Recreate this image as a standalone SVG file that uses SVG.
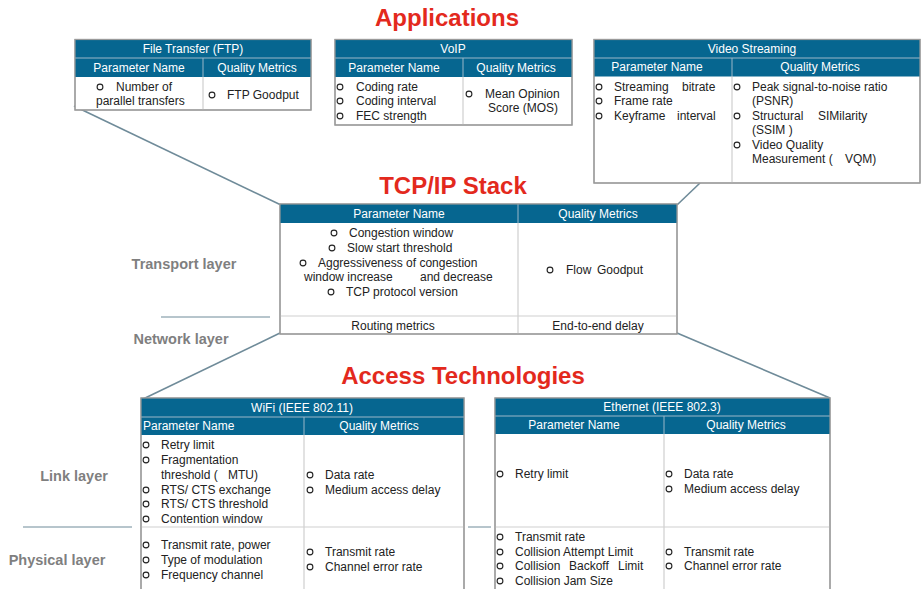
<svg xmlns="http://www.w3.org/2000/svg" width="924" height="589" viewBox="0 0 924 589">
<style>
text{font-family:"Liberation Sans",Arial,sans-serif;font-size:12px;fill:#222}
.h{fill:#fff;font-size:12px}
.c{text-anchor:middle}
.title{font-size:24px;font-weight:bold;fill:#e3291d;text-anchor:middle}
.layer{font-size:14.5px;font-weight:bold;fill:#7f7f7f;text-anchor:middle}
.hdr{fill:#066690}
.box{fill:#fff;stroke:#9a9a9a;stroke-width:1.2}
.div{stroke:#cfcfcf;stroke-width:1.2}
.hdiv{stroke:#9ab7c8;stroke-width:1}
.conn{stroke:#6f8b99;stroke-width:1.6;fill:none}
.sep{stroke:#6f8b99;stroke-width:1}
.b{fill:none;stroke:#222;stroke-width:1.1}
</style>
<defs>
<circle id="o" r="2.9" class="b"/>
</defs>
<rect width="924" height="589" fill="#fff"/>

<g id="connectors">
<line class="conn" x1="74" y1="106" x2="281" y2="205"/>
<line class="conn" x1="700" y1="183" x2="677" y2="205"/>
<line class="conn" x1="280" y1="333" x2="141" y2="400"/>
<line class="conn" x1="677" y1="333" x2="830" y2="398"/>
<line class="sep" x1="161" y1="317" x2="270" y2="317"/>
<line class="sep" x1="23" y1="527" x2="132" y2="527"/>
<line class="sep" x1="468" y1="527" x2="491" y2="527"/>
</g>

<text class="title" x="447" y="26">Applications</text>
<text class="title" x="453" y="194">TCP/IP Stack</text>
<text class="title" x="463" y="384">Access Technologies</text>

<text class="layer" x="184" y="269">Transport layer</text>
<text class="layer" x="181" y="344">Network layer</text>
<text class="layer" x="74" y="481">Link layer</text>
<text class="layer" x="57" y="565">Physical layer</text>

<g id="ftp">
<rect class="box" x="75" y="39.5" width="236" height="70.5"/>
<rect class="hdr" x="75" y="39.5" width="236" height="37.5"/>
<line class="hdiv" x1="75" y1="58" x2="311" y2="58"/>
<line class="hdiv" x1="203" y1="58" x2="203" y2="77"/>
<line class="div" x1="203" y1="77" x2="203" y2="110"/>
<rect x="75" y="39.5" width="236" height="70.5" fill="none" stroke="#9a9a9a" stroke-width="1.2"/>
<text class="h c" x="193" y="53">File Transfer (FTP)</text>
<text class="h c" x="139" y="72">Parameter Name</text>
<text class="h c" x="257" y="72">Quality Metrics</text>
<use href="#o" x="100" y="87"/>
<text x="116" y="91">Number of</text>
<text x="96" y="105">parallel transfers</text>
<use href="#o" x="212" y="95"/>
<text x="227" y="99">FTP Goodput</text>
</g>

<g id="voip">
<rect class="box" x="335" y="39.5" width="237" height="85.5"/>
<rect class="hdr" x="335" y="39.5" width="237" height="37.5"/>
<line class="hdiv" x1="335" y1="58" x2="572" y2="58"/>
<line class="hdiv" x1="463" y1="58" x2="463" y2="77"/>
<line class="div" x1="463" y1="77" x2="463" y2="125"/>
<rect x="335" y="39.5" width="237" height="85.5" fill="none" stroke="#9a9a9a" stroke-width="1.2"/>
<text class="h c" x="453" y="53">VoIP</text>
<text class="h c" x="394" y="72">Parameter Name</text>
<text class="h c" x="516" y="72">Quality Metrics</text>
<use href="#o" x="340" y="87"/>
<text x="356" y="91">Coding rate</text>
<use href="#o" x="340" y="101"/>
<text x="356" y="105">Coding interval</text>
<use href="#o" x="340" y="116"/>
<text x="356" y="120">FEC strength</text>
<use href="#o" x="469" y="94"/>
<text x="485" y="98">Mean Opinion</text>
<text x="488" y="112">Score (MOS)</text>
</g>

<g id="video">
<rect class="box" x="594" y="39.5" width="326" height="143.5"/>
<rect class="hdr" x="594" y="39.5" width="326" height="37"/>
<line class="hdiv" x1="594" y1="58" x2="920" y2="58"/>
<line class="hdiv" x1="732" y1="58" x2="732" y2="76.5"/>
<line class="div" x1="732" y1="76.5" x2="732" y2="183"/>
<rect x="594" y="39.5" width="326" height="143.5" fill="none" stroke="#9a9a9a" stroke-width="1.2"/>
<text class="h c" x="752" y="53">Video Streaming</text>
<text class="h c" x="657" y="71">Parameter Name</text>
<text class="h c" x="820" y="71">Quality Metrics</text>
<use href="#o" x="599" y="87"/>
<text x="614" y="91">Streaming</text>
<text x="682" y="91">bitrate</text>
<use href="#o" x="599" y="101"/>
<text x="614" y="105">Frame rate</text>
<use href="#o" x="599" y="116"/>
<text x="614" y="120">Keyframe</text>
<text x="677" y="120">interval</text>
<use href="#o" x="737" y="87"/>
<text x="752" y="91">Peak signal-to-noise ratio</text>
<text x="752" y="105">(PSNR)</text>
<use href="#o" x="737" y="116"/>
<text x="752" y="120">Structural</text>
<text x="818" y="120">SIMilarity</text>
<text x="752" y="134">(SSIM )</text>
<use href="#o" x="737" y="145"/>
<text x="752" y="149">Video Quality</text>
<text x="752" y="163">Measurement (</text>
<text x="845" y="163">VQM)</text>
</g>

<g id="tcpip">
<rect class="box" x="280" y="204" width="397" height="130"/>
<rect class="hdr" x="280" y="204" width="397" height="19"/>
<line class="hdiv" x1="518" y1="204" x2="518" y2="223"/>
<line class="div" x1="518" y1="223" x2="518" y2="334"/>
<line class="div" x1="280" y1="316" x2="677" y2="316"/>
<rect x="280" y="204" width="397" height="130" fill="none" stroke="#9a9a9a" stroke-width="1.2"/>
<text class="h c" x="399" y="218">Parameter Name</text>
<text class="h c" x="598" y="218">Quality Metrics</text>
<use href="#o" x="334" y="233"/>
<text x="349" y="237">Congestion window</text>
<use href="#o" x="332" y="248"/>
<text x="347" y="252">Slow start threshold</text>
<use href="#o" x="303" y="263"/>
<text x="318" y="267">Aggressiveness of congestion</text>
<text x="304" y="281">window increase</text>
<text x="420" y="281">and decrease</text>
<use href="#o" x="331" y="292"/>
<text x="346" y="296">TCP protocol version</text>
<use href="#o" x="550" y="270"/>
<text x="566" y="274">Flow</text>
<text x="597" y="274">Goodput</text>
<text class="c" x="393" y="330">Routing metrics</text>
<text class="c" x="598" y="330">End-to-end delay</text>
</g>

<g id="wifi">
<rect class="box" x="141" y="398" width="323" height="200"/>
<rect class="hdr" x="141" y="398" width="323" height="37"/>
<line class="hdiv" x1="141" y1="417" x2="464" y2="417"/>
<line class="hdiv" x1="304" y1="417" x2="304" y2="435"/>
<line class="div" x1="304" y1="435" x2="304" y2="598"/>
<line class="div" x1="141" y1="527" x2="464" y2="527"/>
<rect x="141" y="398" width="323" height="200" fill="none" stroke="#9a9a9a" stroke-width="1.2"/>
<text class="h c" x="302" y="412">WiFi (IEEE 802.11)</text>
<text class="h" x="143" y="430">Parameter Name</text>
<text class="h c" x="379" y="430">Quality Metrics</text>
<use href="#o" x="146" y="445"/>
<text x="161" y="449">Retry limit</text>
<use href="#o" x="146" y="460"/>
<text x="161" y="464">Fragmentation</text>
<text x="161" y="479">threshold (</text>
<text x="228" y="479">MTU)</text>
<use href="#o" x="146" y="490"/>
<text x="161" y="494">RTS/ CTS exchange</text>
<use href="#o" x="146" y="504"/>
<text x="161" y="508">RTS/ CTS threshold</text>
<use href="#o" x="146" y="519"/>
<text x="161" y="523">Contention window</text>
<use href="#o" x="310" y="475"/>
<text x="325" y="479">Data rate</text>
<use href="#o" x="310" y="490"/>
<text x="325" y="494">Medium access delay</text>
<use href="#o" x="146" y="545"/>
<text x="161" y="549">Transmit rate, power</text>
<use href="#o" x="146" y="560"/>
<text x="161" y="564">Type of modulation</text>
<use href="#o" x="146" y="575"/>
<text x="161" y="579">Frequency channel</text>
<use href="#o" x="310" y="552"/>
<text x="325" y="556">Transmit rate</text>
<use href="#o" x="310" y="567"/>
<text x="325" y="571">Channel error rate</text>
</g>

<g id="ethernet">
<rect class="box" x="495" y="398" width="335" height="200"/>
<rect class="hdr" x="495" y="398" width="335" height="36"/>
<line class="hdiv" x1="495" y1="416" x2="830" y2="416"/>
<line class="hdiv" x1="664" y1="416" x2="664" y2="434"/>
<line class="div" x1="664" y1="434" x2="664" y2="598"/>
<line class="div" x1="495" y1="527" x2="830" y2="527"/>
<rect x="495" y="398" width="335" height="200" fill="none" stroke="#9a9a9a" stroke-width="1.2"/>
<text class="h c" x="662" y="411">Ethernet (IEEE 802.3)</text>
<text class="h c" x="574" y="429">Parameter Name</text>
<text class="h c" x="746" y="429">Quality Metrics</text>
<use href="#o" x="500" y="474"/>
<text x="515" y="478">Retry limit</text>
<use href="#o" x="669" y="474"/>
<text x="684" y="478">Data rate</text>
<use href="#o" x="669" y="489"/>
<text x="684" y="493">Medium access delay</text>
<use href="#o" x="500" y="537"/>
<text x="515" y="541">Transmit rate</text>
<use href="#o" x="500" y="552"/>
<text x="515" y="556">Collision Attempt Limit</text>
<use href="#o" x="500" y="566"/>
<text x="515" y="570">Collision</text>
<text x="569" y="570">Backoff</text>
<text x="618" y="570">Limit</text>
<use href="#o" x="500" y="581"/>
<text x="515" y="585">Collision Jam Size</text>
<use href="#o" x="669" y="552"/>
<text x="684" y="556">Transmit rate</text>
<use href="#o" x="669" y="566"/>
<text x="684" y="570">Channel error rate</text>
</g>
</svg>
